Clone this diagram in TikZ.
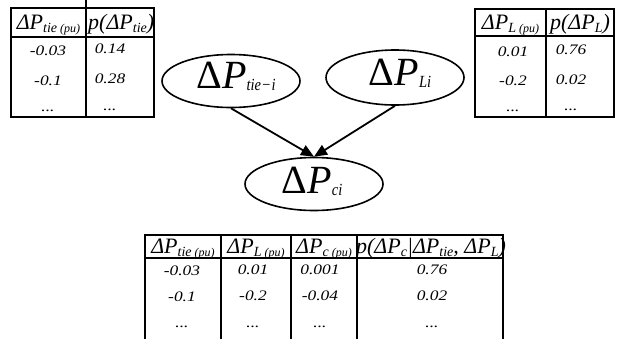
\documentclass[tikz,border=0pt]{standalone}
\usepackage{fontspec}
\setmainfont{Liberation Serif}
\usetikzlibrary{arrows.meta,shapes.geometric}
\newcommand{\fsz}[1]{\fontsize{#1}{#1}\selectfont}
% table header pieces
\newcommand{\Hbig}[1]{{\fsz{22}\itshape #1}}
\newcommand{\Hsub}[1]{\raisebox{-3.5pt}{\fsz{14}\itshape #1}}
\newcommand{\Hpu}{\raisebox{-3.5pt}{\fsz{12}\itshape\ (pu)}}
\newcommand{\Val}[1]{\scalebox{1.2}[1]{\fsz{14.5}\itshape #1}}
\newcommand{\Ebig}[1]{{\fsz{40}Δ\itshape P}\raisebox{-2pt}{\scalebox{0.85}[1]{\fsz{17}\itshape #1}}}
\begin{document}
\begin{tikzpicture}[x=1pt,y=-1pt,
  tline/.style={line width=1.6pt,line cap=rect},
  ell/.style={ellipse,draw,line width=1.6pt,minimum width=138pt,minimum height=53pt,inner sep=0pt},
  lab/.style={inner sep=0pt,anchor=base},
  conn/.style={line width=1.8pt,-{Triangle[length=13pt,width=11pt]},shorten >=0pt}]
\useasboundingbox (0,0) rectangle (617,338);

% ---------- top-left table ----------
\draw[tline] (11,8) rectangle (154,117);
\draw[tline] (11,37) -- (154,37);
\draw[tline] (86,0) -- (86,117);
\node[lab] (tlh1) at (48.5,29) {\Hbig{ΔP}\Hsub{tie}\Hpu};
\node[lab,anchor=base west] (tlh2) at (88,29) {\Hbig{p(ΔP}\Hsub{tie}\Hbig{)}};
\node[lab] (tl11) at (48,55) {\Val{-0.03}};
\node[lab] (tl12) at (110,53) {\Val{0.14}};
\node[lab] (tl21) at (48,85) {\Val{-0.1}};
\node[lab] (tl22) at (110,83) {\Val{0.28}};
\node[lab] (tl31) at (48,111) {\Val{...}};
\node[lab] (tl32) at (110,110) {\Val{...}};

% ---------- top-right table ----------
\draw[tline] (475,9) rectangle (614,117);
\draw[tline] (475,36) -- (614,36);
\draw[tline] (546,9) -- (546,117);
\node[lab] (trh1) at (510.5,29) {\Hbig{ΔP}\Hsub{L}\Hpu};
\node[lab] (trh2) at (580,29) {\Hbig{p(ΔP}\Hsub{L}\Hbig{)}};
\node[lab] (tr11) at (513,56) {\Val{0.01}};
\node[lab] (tr12) at (571,54) {\Val{0.76}};
\node[lab] (tr21) at (513,85) {\Val{-0.2}};
\node[lab] (tr22) at (571,84) {\Val{0.02}};
\node[lab] (tr31) at (513,111) {\Val{...}};
\node[lab] (tr32) at (571,110) {\Val{...}};

% ---------- ellipses ----------
\node[ell] (L) at (231,81) {};
\node[lab] (Lt) at (236,88) {\Ebig{tie\hspace{0.5pt}−\hspace{0.5pt}i}};
\node[ell,minimum height=55pt] (R) at (395,77.5) {};
\node[lab] (Rt) at (400,85) {\Ebig{Li}};
\node[ell] (C) at (314,184) {};
\node[lab] (Ct) at (312,193) {\Ebig{ci}};
\draw[conn] (L.south) -- (C.north);
\draw[conn] (R.south) -- (C.north);

% ---------- bottom table ----------
\draw[tline] (145,235) -- (503,235);
\draw[tline] (145,258) -- (503,258);
\foreach \x in {145,221,291,357,503} \draw[tline] (\x,235) -- (\x,340);
\node[lab] (bh1) at (183,253) {\Hbig{ΔP}\Hsub{tie}\Hpu};
\node[lab] (bh2) at (256,253) {\Hbig{ΔP}\Hsub{L}\Hpu};
\node[lab] (bh3) at (324,253) {\Hbig{ΔP}\Hsub{c}\Hpu};
\node[lab] (bh4) at (431,253) {\Hbig{p(ΔP}\Hsub{c}\Hbig{|ΔP}\Hsub{tie}\Hbig{, ΔP}\Hsub{L}\Hbig{)}};
\node[lab] (b11) at (182,275) {\Val{-0.03}};
\node[lab] (b12) at (253,274) {\Val{0.01}};
\node[lab] (b13) at (320,274) {\Val{0.001}};
\node[lab] (b14) at (432,274) {\Val{0.76}};
\node[lab] (b21) at (182,301) {\Val{-0.1}};
\node[lab] (b22) at (253,300) {\Val{-0.2}};
\node[lab] (b23) at (320,300) {\Val{-0.04}};
\node[lab] (b24) at (432,300) {\Val{0.02}};
\node[lab] (b31) at (182,327) {\Val{...}};
\node[lab] (b32) at (253,327) {\Val{...}};
\node[lab] (b33) at (320,327) {\Val{...}};
\node[lab] (b34) at (432,327) {\Val{...}};
\end{tikzpicture}
\end{document}
